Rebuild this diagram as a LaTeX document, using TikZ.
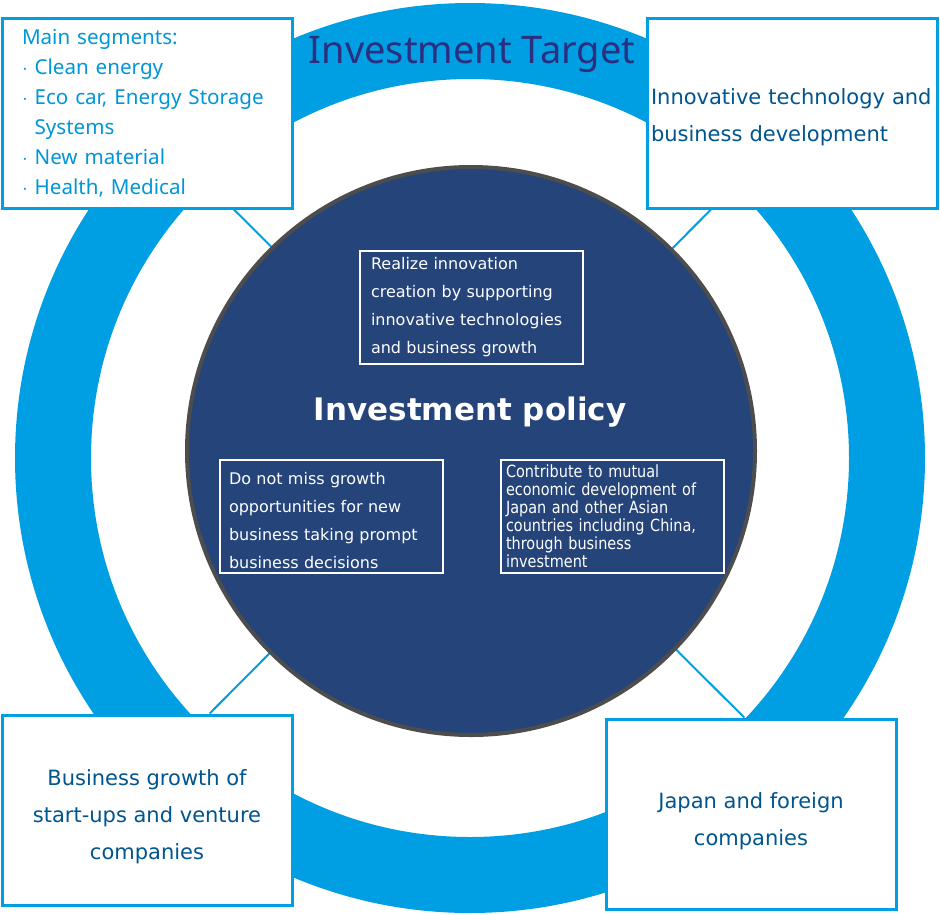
\documentclass[tikz,border=0pt]{standalone}
\usepackage{fontspec}
\setmainfont{DejaVu Sans}
\newfontfamily\headfont{Noto Sans}
\newfontfamily\narrowfont[FakeStretch=0.86]{DejaVu Sans}
\definecolor{ringblue}{HTML}{009FE3}
\definecolor{policyblue}{HTML}{25447A}
\definecolor{rimgrey}{HTML}{4D4D4D}
\definecolor{headnavy}{HTML}{2B2F80}
\definecolor{targettext}{HTML}{00558E}
\definecolor{segtext}{HTML}{0096D8}
\pgfdeclarelayer{background}
\pgfsetlayers{background,main}

\begin{document}
\begin{tikzpicture}[x=1pt, y=-1pt,
    target/.style = {draw=ringblue, line width=3pt, fill=white, inner sep=0pt,
                     minimum width=290pt, minimum height=190pt},
    targetlabel/.style = {text=targettext, font=\fontsize{21}{37}\selectfont, inner sep=0pt},
    aim/.style = {draw=white, line width=2pt, fill=policyblue, text=white, inner sep=0pt,
                  minimum width=223pt, minimum height=113pt},
    link/.style = {draw=ringblue, line width=2pt}]
        \def\ringX{470}
        \def\ringY{458}
        \def\ringMid{417}

        \useasboundingbox (0,0) rectangle (940,914);

        % Drawing the outer ring and its title
        \begin{pgfonlayer}{background}
            \draw[ringblue, line width=76pt] (\ringX,\ringY) circle (\ringMid);
          \end{pgfonlayer}
        \node[text=headnavy, font=\headfont\fontsize{38}{44}\selectfont] (ringtitle) at (472,54) {Investment Target};

        % Drawing the policy circle
        \node[circle, fill=policyblue, draw=rimgrey, line width=4pt, minimum size=568pt] (hub) at (471,451) {};
        \node[text=white, font=\bfseries\fontsize{31}{36}\selectfont] (policy) at (470,412) {Investment policy};

        % Drawing the three aims inside the circle
        \node[aim, text width=201pt, align=left, font=\fontsize{16}{28}\selectfont] (innovbox) at (471.5,307)
            {Realize innovation\\creation by supporting\\innovative technologies\\and business growth};
        \node[aim, text width=205pt, align=left, font=\fontsize{16}{28}\selectfont] (growbox) at (331.5,516)
            {\rule{0pt}{21pt}Do not miss growth\\opportunities for new\\business taking prompt\\business decisions};
        \node[aim, text width=212pt, align=left, font=\narrowfont\fontsize{16.8}{18}\selectfont] (asiabox) at (612,516)
            {Contribute to mutual\\economic development of\\Japan and other Asian\\countries including China,\\through business\\investment};

        % Drawing the four target boxes
        \node[target, text=segtext, text width=250pt, align=left, font=\headfont\fontsize{20.6}{30}\selectfont] (segbox) at (147,113)
            {Main segments:\\$\cdot$ Clean energy\\$\cdot$ Eco car, Energy Storage\\\phantom{$\cdot$ }Systems\\$\cdot$ New material\\$\cdot$ Health, Medical};
        \node[target] (techbox) at (792,113) {};
        \node[target] (startbox) at (147,810) {};
        \node[target] (firmbox) at (751,814) {};
        \node[targetlabel, text width=282pt, align=left] (techtext) at ([yshift=-4pt]techbox.center)
            {Innovative technology and\\business development};
        \node[targetlabel, align=center] (starttext) at ([yshift=-7pt]startbox.center)
            {Business growth of\\start-ups and venture\\companies};
        \node[targetlabel, align=center] (firmtext) at ([yshift=-7pt]firmbox.center)
            {Japan and foreign\\companies};

        % Connections
        % Diagonals from box to box, crossing behind the circle
        \begin{pgfonlayer}{background}
            \draw[link] (segbox.-48) -- (firmbox.94);
            \draw[link] (techbox.-130) -- (startbox.57);
          \end{pgfonlayer}
      \end{tikzpicture}
\end{document}
